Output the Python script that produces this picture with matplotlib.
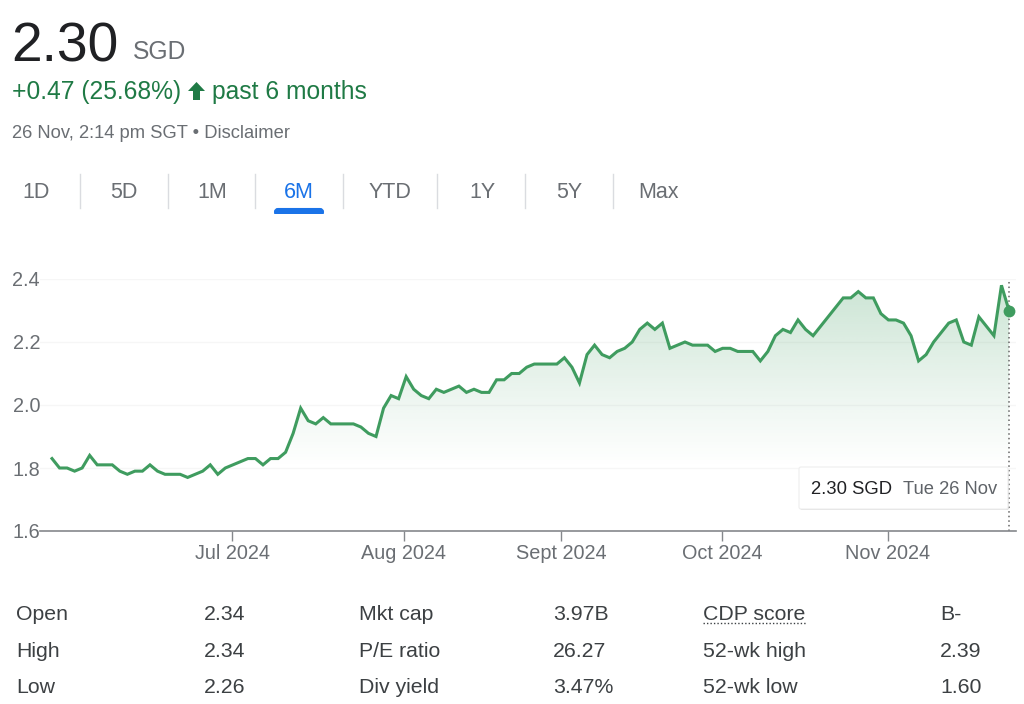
import numpy as np
import matplotlib
matplotlib.use("Agg")
import matplotlib.pyplot as plt
from matplotlib.patches import Polygon, FancyBboxPatch, Rectangle

plt.rcParams['font.family'] = ['Liberation Sans', 'DejaVu Sans']

prices = [1.83,1.80,1.80,1.79,1.80,1.84,1.81,1.81,1.81,1.79,1.78,1.79,1.79,1.81,1.79,1.78,
          1.78,1.78,1.77,1.78,1.79,1.81,1.78,1.80,1.81,1.82,1.83,1.83,1.81,1.83,1.83,1.85,
          1.91,1.99,1.95,1.94,1.96,1.94,1.94,1.94,1.94,1.93,1.91,1.90,1.99,2.03,2.02,2.09,
          2.05,2.03,2.02,2.05,2.04,2.05,2.06,2.04,2.05,2.04,2.04,2.08,2.08,2.10,2.10,2.12,
          2.13,2.13,2.13,2.13,2.15,2.12,2.07,2.16,2.19,2.16,2.15,2.17,2.18,2.20,2.24,2.26,
          2.24,2.26,2.18,2.19,2.20,2.19,2.19,2.19,2.17,2.18,2.18,2.17,2.17,2.17,2.14,2.17,
          2.22,2.24,2.23,2.27,2.24,2.22,2.25,2.28,2.31,2.34,2.34,2.36,2.34,2.34,2.29,2.27,
          2.27,2.26,2.22,2.14,2.16,2.20,2.23,2.26,2.27,2.20,2.19,2.28,2.25,2.22,2.38,2.30]
month_ticks = [23.9, 46.7, 67.6, 88.9, 110.9]
month_labels = ["Jul 2024", "Aug 2024", "Sept 2024", "Oct 2024", "Nov 2024"]
y_ticks = [1.6, 1.8, 2.0, 2.2, 2.4]
ranges = ["1D", "5D", "1M", "6M", "YTD", "1Y", "5Y", "Max"]
range_x = [36, 124, 212, 299, 390, 482, 569, 659]
separators = [80, 168, 255, 343, 437, 525, 613]
stat_labels = [["Open", "High", "Low"], ["Mkt cap", "P/E ratio", "Div yield"], ["CDP score", "52-wk high", "52-wk low"]]
stat_values = [["2.34", "2.34", "2.26"], ["3.97B", "26.27", "3.47%"], ["B-", "2.39", "1.60"]]
stat_label_x = [16, 359, 703]
stat_value_x = [204, 553, 940]
stat_y = [613, 650, 686]

GREEN = "#3f9c5f"
TEXT_GREEN = "#1f7a45"
GRAY = "#6a6e73"
DARK = "#3c4043"

W, H = 1024, 704
fig = plt.figure(figsize=(W/100, H/100), dpi=100, facecolor="white")

# chart axes placed in pixels: left 40, right 1016, 1.6 at y=531, 2.4 at y=279
ax = fig.add_axes([40/W, 1-531/H, 976/W, 252/H])
idx = np.arange(len(prices))
step = 957/(len(prices)-1)

poly = ax.fill_between(idx, prices, 1.6, facecolor="none", edgecolor="none")
top, fade_to = max(prices), 1.80
grad = np.zeros((256, 2, 4))
grad[..., :3] = matplotlib.colors.to_rgb("#3f9c5f")
grad[..., 3] = np.linspace(0.30, 0, 256)[:, None]**1.1
im = ax.imshow(grad, extent=[idx[0], idx[-1], fade_to, top], aspect="auto", origin="upper", zorder=1)
im.set_clip_path(poly.get_paths()[0], ax.transData)
ax.set_xlim((40-52)/step, (1016-52)/step)
ax.set_ylim(1.6, 2.4)

ax.plot(idx, prices, color=GREEN, lw=2.2, solid_joinstyle="miter", zorder=3)
ax.plot(idx[-1], prices[-1], "o", ms=8.5, color=GREEN, zorder=4, mec="none")
ax.plot([idx[-1], idx[-1]], [1.6, 2.4], color="#666666", lw=1.1, ls=(0, (1, 2)), zorder=2)

for s in ("top", "right", "left"):
    ax.spines[s].set_visible(False)
ax.spines["bottom"].set_color("#85888c")
ax.spines["bottom"].set_linewidth(1.2)
ax.set_yticks(y_ticks)
ax.set_yticklabels([f"{v:.1f}" for v in y_ticks])
ax.set_xticks(month_ticks)
ax.set_xticklabels(month_labels)
ax.tick_params(axis="y", length=0, pad=0, labelsize=14.3, labelcolor=GRAY)
ax.tick_params(axis="x", length=7.2, width=1, color="#85888c", pad=2, labelsize=14.3, labelcolor=GRAY)
ax.yaxis.grid(True, color="#f6f6f6", lw=1)
ax.set_axisbelow(True)
ax.patch.set_alpha(0)

# overlay in pixel coordinates
ov = fig.add_axes([0, 0, 1, 1], zorder=5)
ov.set_xlim(0, W); ov.set_ylim(H, 0); ov.axis("off"); ov.patch.set_alpha(0)

def t(x, y, s, size, color, **kw):
    kw.setdefault("va", "baseline")
    return ov.text(x, y, s, fontsize=size, color=color, **kw)

t(11, 62, "2.30", 39.8, "#202124")
t(133, 59, "SGD", 17.7, GRAY)
t(12, 99, "+0.47 (25.68%)", 17.7, TEXT_GREEN)
ov.add_patch(Polygon([(196.5, 82), (205, 91), (200, 91), (200, 100), (193, 100), (193, 91), (188, 91)],
                     closed=True, fc=TEXT_GREEN, ec="none"))
t(212, 99, "past 6 months", 17.7, TEXT_GREEN)
t(12, 138, "26 Nov, 2:14 pm SGT • Disclaimer", 13.2, GRAY)

for x, lab in zip(range_x, ranges):
    t(x, 198, lab, 15.5, "#1a73e8" if lab == "6M" else GRAY, ha="center")
for x in separators:
    ov.plot([x, x], [174, 208], color="#dadce0", lw=1)
ov.add_patch(FancyBboxPatch((275, 209), 48, 6, boxstyle="round,pad=0,rounding_size=3", fc="#1a73e8", ec="#1a73e8", lw=1.5))
ov.add_patch(Rectangle((272, 214), 56, 3, fc="white", ec="none"))

# tooltip
ov.add_patch(FancyBboxPatch((800, 469), 209, 41, boxstyle="round,pad=0,rounding_size=2", fc="#bbbbbb", ec="none", alpha=0.45))
ov.add_patch(FancyBboxPatch((799, 467), 209, 42, boxstyle="round,pad=0,rounding_size=2", fc="white", ec="#eeeeee", lw=0.8))
t(811, 494, "2.30 SGD", 13.3, "#202124")
t(903, 494, "Tue 26 Nov", 13.2, "#5f6368")

for lx, vx, labs, vals in zip(stat_label_x, stat_value_x, stat_labels, stat_values):
    for y, lab, val in zip(stat_y, labs, vals):
        t(lx, y + 7, lab, 15.3, DARK)
        t(vx, y + 7, val, 15.3, DARK)
ov.plot([703, 806], [623, 623], color="#3c4043", lw=1, ls=(0, (1, 1.5)))

fig.savefig("out.png", dpi=100, facecolor="white")
